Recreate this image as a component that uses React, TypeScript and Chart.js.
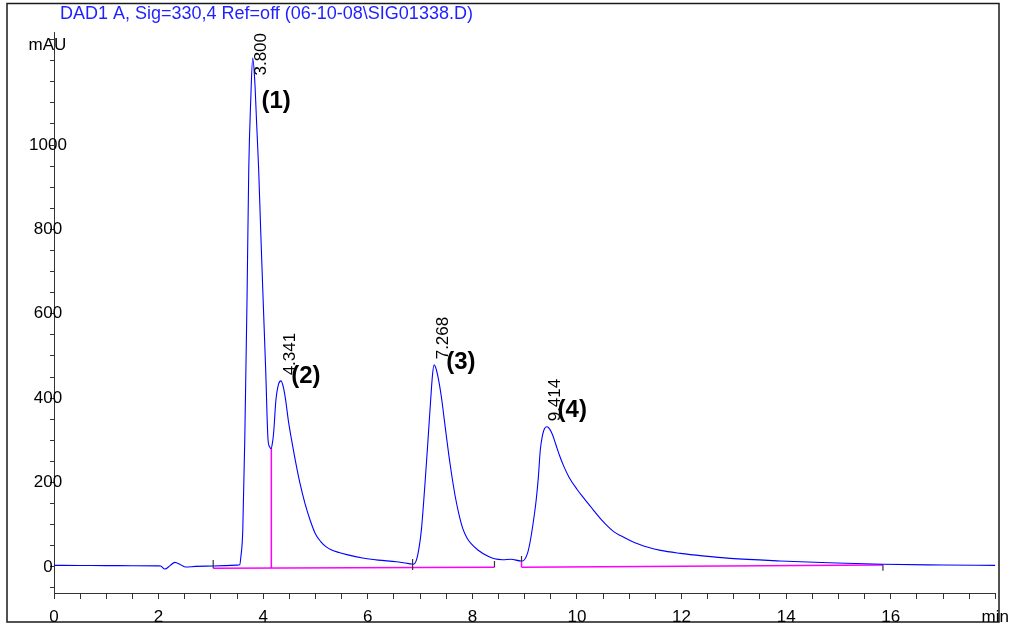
import React, { useEffect, useRef } from 'react';
import { Chart, registerables } from 'chart.js';

Chart.register(...registerables);

const TITLE = 'DAD1 A, Sig=330,4 Ref=off (06-10-08\\SIG01338.D)';
const Y_UNIT = 'mAU';
const FONT = '"Liberation Sans", Arial, sans-serif';

// axis ranges
const X_MIN = 0;
const X_MAX = 18;
const Y_MIN = -62;
const Y_MAX = 1268;

// tick labels
const xLabeledTicks = [0, 2, 4, 6, 8, 10, 12, 14, 16, 18];
const xTickLabels = ['0', '2', '4', '6', '8', '10', '12', '14', '16', 'min'];
const X_MINOR_STEP = 0.5;
const yLabeledTicks = [0, 200, 400, 600, 800, 1000];
const yTickLabels = ['0', '200', '400', '600', '800', '1000'];
const Y_MINOR_STEP = 50;

// chromatogram trace (min, mAU)
const traceTime = [
  0.0, 0.5, 1.0, 1.5, 2.0, 2.04, 2.12, 2.22, 2.31, 2.42, 2.52, 2.71, 3.04, 3.3, 3.5,
  3.552, 3.571, 3.61, 3.648, 3.691, 3.724, 3.762, 3.8, 3.838, 3.876, 3.914, 3.952, 3.998,
  4.048, 4.092, 4.125, 4.15, 4.175, 4.2, 4.244, 4.295, 4.341, 4.39, 4.429, 4.48, 4.543, 4.6,
  4.7, 4.8, 4.9, 5.0, 5.1, 5.2, 5.31, 5.45, 5.6, 5.9, 6.2, 6.55, 6.82, 6.867, 6.93,
  6.98, 7.025, 7.09, 7.152, 7.203, 7.238, 7.267, 7.3, 7.34, 7.38, 7.42, 7.46, 7.5, 7.55,
  7.6, 7.68, 7.756, 7.819, 7.9, 7.977, 8.105, 8.3, 8.423, 8.58, 8.74, 8.93, 8.962, 9.057,
  9.11, 9.171, 9.22, 9.261, 9.299, 9.343, 9.381, 9.425, 9.476, 9.533, 9.596, 9.667, 9.743,
  9.851, 10.0, 10.15, 10.3, 10.453, 10.6, 10.71, 10.85, 11.025, 11.2, 11.343, 11.6, 11.977,
  12.4, 12.93, 13.882, 14.834, 15.851, 17.0, 18.0,
];
const traceSignal = [
  3.5, 3.2, 3.0, 2.6, 2.2, 1.9, -5.2, 3, 10.7, 5, -0.5, 1.2, 1.9, 3, 4,
  5, 21, 87, 301, 633, 941, 1106, 1206, 1154, 1048, 941, 799, 637,
  467, 303, 284, 280, 292, 318, 396, 434, 441, 424, 396, 348, 301, 262,
  200, 150, 110, 78, 60, 48, 40, 34, 29, 21, 16, 12, 7, 6, 16,
  45, 87, 190, 301, 396, 455, 479, 472, 452, 425, 392, 352, 313, 265,
  222, 162, 118, 90, 68, 55, 40, 25, 19, 17, 18, 14, 14, 33,
  63, 111, 158, 211, 277, 313, 328, 332, 327, 313, 290, 264, 240,
  212, 184, 160, 137, 114, 95, 83, 73, 62, 53, 47, 39, 32,
  26, 20, 14, 9.7, 6, 4.5, 3.6,
];

// integration baselines (start time, start value, end time, end value)
const baselineStartTime = [3.044, 8.94];
const baselineStartValue = [-3.6, -1.2];
const baselineEndTime = [8.423, 15.851];
const baselineEndValue = [-1.2, 4.3];

// drop lines (time, bottom value, top value)
const dropTime = [4.156, 8.94];
const dropLow = [-3.1, -1.2];
const dropHigh = [281, 12];

// integration event marks (time, low value, high value)
const eventTime = [3.044, 6.857, 8.423, 8.94, 15.851];
const eventLow = [-3.6, -7.6, -1.2, 12, -9.2];
const eventHigh = [16, 18.5, 13.8, 25.6, 4.3];

// peaks
const peakTime = [3.8, 4.341, 7.268, 9.414];
const peakApex = [1206, 441, 479, 332];
const peakRtLabel = ['3.800', '4.341', '7.268', '9.414'];
const peakName = ['(1)', '(2)', '(3)', '(4)'];
const peakNameTime = [3.966, 4.537, 7.5, 9.629];
const peakNameValue = [1104, 452, 484, 372];

function buildTicks(min: number, max: number, step: number) {
  const out: { value: number }[] = [];
  const n = Math.round((max - min) / step);
  for (let i = 0; i <= n; i++) out.push({ value: +(min + i * step).toFixed(4) });
  return out;
}

const decorPlugin = {
  id: 'decor',
  beforeDraw(chart: any) {
    const ctx = chart.ctx;
    ctx.save();
    ctx.fillStyle = '#ffffff';
    ctx.fillRect(0, 0, chart.width, chart.height);
    ctx.strokeStyle = '#1a1a1a';
    ctx.lineWidth = 1.5;
    ctx.strokeRect(7, 3.5, 992, 618.5);
    ctx.restore();
  },
  afterDraw(chart: any) {
    const ctx = chart.ctx;
    const xs = chart.scales.x;
    const ys = chart.scales.y;
    const area = chart.chartArea;
    ctx.save();
    ctx.fillStyle = '#1f1fff';
    ctx.font = `18px ${FONT}`;
    ctx.textAlign = 'left';
    ctx.textBaseline = 'middle';
    ctx.fillText(TITLE, 60, 14);

    ctx.fillStyle = '#000';
    ctx.font = `17px ${FONT}`;
    ctx.textAlign = 'center';
    ctx.fillText(Y_UNIT, 47.5, 45);

    // retention time labels (rotated)
    ctx.font = `17px ${FONT}`;
    ctx.textAlign = 'left';
    ctx.textBaseline = 'alphabetic';
    peakRtLabel.forEach((lbl, i) => {
      const px = xs.getPixelForValue(peakTime[i]);
      const py = ys.getPixelForValue(peakApex[i]);
      const w = ctx.measureText(lbl).width;
      const bottom = Math.max(py - 5.5, area.top + 1 + w);
      ctx.save();
      ctx.translate(px + 13.5, bottom);
      ctx.rotate(-Math.PI / 2);
      ctx.fillText(lbl, 0, 0);
      ctx.restore();
    });

    // peak names
    ctx.font = `bold 24px ${FONT}`;
    ctx.textAlign = 'left';
    ctx.textBaseline = 'middle';
    peakName.forEach((lbl, i) => {
      ctx.fillText(lbl, xs.getPixelForValue(peakNameTime[i]), ys.getPixelForValue(peakNameValue[i]));
    });
    ctx.restore();
  },
};

export default function App() {
  const ref = useRef<HTMLCanvasElement | null>(null);

  useEffect(() => {
    if (!ref.current) return;

    const trace = traceTime.map((t, i) => ({ x: t, y: traceSignal[i] }));

    const magenta: { x: number; y: number | null }[] = [];
    baselineStartTime.forEach((t, i) => {
      magenta.push({ x: t, y: baselineStartValue[i] });
      magenta.push({ x: baselineEndTime[i], y: baselineEndValue[i] });
      magenta.push({ x: baselineEndTime[i], y: null });
    });
    dropTime.forEach((t, i) => {
      magenta.push({ x: t, y: dropLow[i] });
      magenta.push({ x: t, y: dropHigh[i] });
      magenta.push({ x: t, y: null });
    });

    const events: { x: number; y: number | null }[] = [];
    eventTime.forEach((t, i) => {
      events.push({ x: t, y: eventLow[i] });
      events.push({ x: t, y: eventHigh[i] });
      events.push({ x: t, y: null });
    });

    const chart = new Chart(ref.current, {
      type: 'line',
      data: {
        datasets: [
          {
            data: trace,
            borderColor: '#0000ff',
            borderWidth: 1.1,
            pointRadius: 0,
            cubicInterpolationMode: 'monotone',
            fill: false,
            order: 1,
          },
          {
            data: magenta,
            borderColor: '#ff00ff',
            borderWidth: 1.5,
            pointRadius: 0,
            tension: 0,
            spanGaps: false,
            fill: false,
            order: 2,
          },
          {
            data: events,
            borderColor: '#333333',
            borderWidth: 1.2,
            pointRadius: 0,
            tension: 0,
            spanGaps: false,
            fill: false,
            order: 0,
          },
        ] as any,
      },
      options: {
        responsive: false,
        maintainAspectRatio: false,
        animation: false,
        events: [],
        layout: { padding: { left: 0, right: 18, top: 32, bottom: 0 } },
        plugins: {
          legend: { display: false },
          tooltip: { enabled: false },
          title: { display: false },
        },
        scales: {
          x: {
            type: 'linear',
            min: X_MIN,
            max: X_MAX,
            position: 'bottom',
            afterBuildTicks: (s: any) => {
              s.ticks = buildTicks(X_MIN, X_MAX, X_MINOR_STEP);
            },
            afterFit: (s: any) => {
              s.height = 32;
            },
            grid: { drawOnChartArea: false, drawTicks: true, tickLength: 6, tickColor: '#333', tickWidth: 1 },
            border: { display: true, color: '#333', width: 1 },
            ticks: {
              autoSkip: false,
              maxRotation: 0,
              minRotation: 0,
              padding: 8,
              color: '#000',
              font: { family: FONT, size: 17 },
              callback: (v: any) => {
                const k = xLabeledTicks.indexOf(Number(v));
                return k >= 0 ? xTickLabels[k] : '';
              },
            },
          },
          y: {
            type: 'linear',
            min: Y_MIN,
            max: Y_MAX,
            position: 'left',
            afterBuildTicks: (s: any) => {
              s.ticks = buildTicks(-50, 1250, Y_MINOR_STEP);
            },
            afterFit: (s: any) => {
              s.width = 54;
            },
            grid: { drawOnChartArea: false, drawTicks: true, tickLength: 4, tickColor: '#333', tickWidth: 1 },
            border: { display: true, color: '#333', width: 1 },
            ticks: {
              autoSkip: false,
              mirror: true,
              crossAlign: 'center',
              padding: -24.9,
              color: '#000',
              font: { family: FONT, size: 17 },
              callback: (v: any) => {
                const k = yLabeledTicks.indexOf(Number(v));
                return k >= 0 ? yTickLabels[k] : '';
              },
            },
          },
        },
      } as any,
      plugins: [decorPlugin],
    });

    return () => chart.destroy();
  }, []);

  return (
    <div style={{ position: 'fixed', left: 0, top: 0, width: 1017, height: 625, background: '#fff' }}>
      <canvas ref={ref} width={1017} height={625} style={{ display: 'block' }} />
    </div>
  );
}
